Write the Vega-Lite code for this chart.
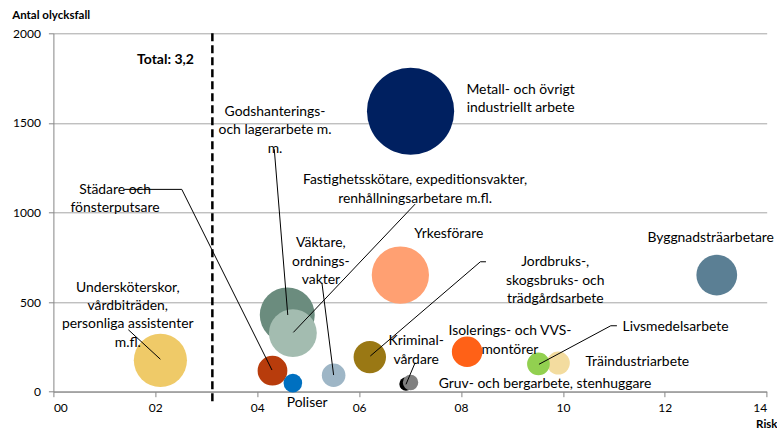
{
  "$schema": "https://vega.github.io/schema/vega-lite/v6.json",
  "autosize": {"type": "none"},
  "width": 713.3,
  "height": 358.4,
  "padding": {"left": 53.4, "top": 33.3, "right": 10.3, "bottom": 40.3},
  "background": "white",
  "config": {
    "view": {"stroke": null},
    "font": "Lato",
    "axis": {"labelFont": "Lato", "titleFont": "Lato", "labelColor": "black", "titleColor": "black"}
  },
  "datasets": {
    "bubblor": [
      {"yrke": "Metall- och övrigt industriellt arbete", "risk": 7.01, "olycksfall": 1565, "storlek": 2421, "z": 1},
      {"yrke": "Yrkesförare", "risk": 6.81, "olycksfall": 651, "storlek": 1043, "z": 2},
      {"yrke": "Byggnadsträarbetare", "risk": 13.02, "olycksfall": 651, "storlek": 529, "z": 3},
      {"yrke": "Undersköterskor, vårdbiträden, personliga assistenter m.fl.", "risk": 2.10, "olycksfall": 175, "storlek": 900, "z": 4},
      {"yrke": "Godshanterings- och lagerarbete m. m.", "risk": 4.59, "olycksfall": 428, "storlek": 961, "z": 5},
      {"yrke": "Fastighetsskötare, expeditionsvakter, renhållningsarbetare m.fl.", "risk": 4.70, "olycksfall": 327, "storlek": 729, "z": 6},
      {"yrke": "Städare och fönsterputsare", "risk": 4.30, "olycksfall": 117, "storlek": 282, "z": 7},
      {"yrke": "Poliser", "risk": 4.70, "olycksfall": 48, "storlek": 110, "z": 8},
      {"yrke": "Väktare, ordningsvakter", "risk": 5.50, "olycksfall": 92, "storlek": 177, "z": 9},
      {"yrke": "Jordbruks-, skogsbruks- och trädgårdsarbete", "risk": 6.21, "olycksfall": 193, "storlek": 335, "z": 10},
      {"yrke": "Kriminalvårdare", "risk": 6.92, "olycksfall": 43, "storlek": 56, "z": 11},
      {"yrke": "Gruv- och bergarbete, stenhuggare", "risk": 7.01, "olycksfall": 51, "storlek": 76, "z": 12},
      {"yrke": "Isolerings- och VVS-montörer", "risk": 8.12, "olycksfall": 223, "storlek": 296, "z": 13},
      {"yrke": "Träindustriarbete", "risk": 9.91, "olycksfall": 160, "storlek": 169, "z": 14},
      {"yrke": "Livsmedelsarbete", "risk": 9.52, "olycksfall": 155, "storlek": 164, "z": 15}
    ],
    "etiketter": [
      {"text": "Undersköterskor,\nvårdbiträden,\npersonliga assistenter\nm.fl.", "risk": 1.46, "olycksfall": 581},
      {"text": "Städare och\nfönsterputsare", "risk": 1.21, "olycksfall": 1126},
      {"text": "Godshanterings-\noch lagerarbete m.\nm.", "risk": 4.35, "olycksfall": 1561},
      {"text": "Fastighetsskötare, expeditionsvakter,\nrenhållningsarbetare m.fl.", "risk": 7.10, "olycksfall": 1179},
      {"text": "Väktare,\nordnings-\nvakter", "risk": 5.25, "olycksfall": 828},
      {"text": "Yrkesförare", "risk": 7.76, "olycksfall": 880},
      {"text": "Metall- och övrigt\nindustriellt arbete", "risk": 9.17, "olycksfall": 1684},
      {"text": "Jordbruks-,\nskogsbruks- och\nträdgårdsarbete", "risk": 9.85, "olycksfall": 722},
      {"text": "Byggnadsträarbetare", "risk": 12.90, "olycksfall": 856},
      {"text": "Kriminal-\nvårdare", "risk": 7.12, "olycksfall": 281},
      {"text": "Isolerings- och VVS-\nmontörer", "risk": 8.96, "olycksfall": 338},
      {"text": "Gruv- och bergarbete, stenhuggare", "risk": 9.65, "olycksfall": 43},
      {"text": "Poliser", "risk": 4.98, "olycksfall": -65},
      {"text": "Livsmedelsarbete", "risk": 12.21, "olycksfall": 363},
      {"text": "Träindustriarbete", "risk": 11.46, "olycksfall": 167}
    ],
    "linjer": [
      {"x": 1.47, "y": 346, "x2": 2.10, "y2": 181},
      {"x": 1.39, "y": 1129, "x2": 2.52, "y2": 1129},
      {"x": 2.52, "y": 1129, "x2": 4.29, "y2": 121},
      {"x": 4.335, "y": 1353, "x2": 4.60, "y2": 428},
      {"x": 7.10, "y": 1047, "x2": 4.71, "y2": 331},
      {"x": 5.27, "y": 608, "x2": 5.50, "y2": 93},
      {"x": 8.49, "y": 725, "x2": 8.38, "y2": 725},
      {"x": 8.38, "y": 725, "x2": 6.22, "y2": 199},
      {"x": 7.10, "y": 162, "x2": 6.92, "y2": 41},
      {"x": 11.06, "y": 368, "x2": 10.94, "y2": 368},
      {"x": 10.94, "y": 368, "x2": 9.53, "y2": 153}
    ],
    "total": [
      {"risk": 3.12, "olycksfall": 2000, "botten": -75, "text": "Total: 3,2", "textRisk": 2.20, "textY": 1851}
    ]
  },
  "layer": [
    {
      "data": {"name": "bubblor"},
      "mark": {"type": "circle", "opacity": 1},
      "encoding": {
        "x": {
          "field": "risk", "type": "quantitative",
          "scale": {"domain": [0, 14], "nice": false},
          "axis": {
            "values": [0, 2, 4, 6, 8, 10, 12, 14], "format": "02d",
            "grid": false, "domainColor": "#868686", "tickColor": "#868686", "tickSize": 5,
            "labelFontSize": 12, "labelPadding": 6,
            "title": "Risk", "titleFontSize": 11.5, "titleFontWeight": "bold",
            "titleX": 723.6, "titleY": 33.3, "titleAlign": "right", "titleBaseline": "middle", "titleAnchor": null
          }
        },
        "y": {
          "field": "olycksfall", "type": "quantitative",
          "scale": {"domain": [0, 2000], "nice": false},
          "axis": {
            "values": [0, 500, 1000, 1500, 2000], "format": "d",
            "grid": true, "gridColor": "#A6A6A6", "domainColor": "#868686", "tickColor": "#868686", "tickSize": 5,
            "labelFontSize": 12, "labelPadding": 8,
            "title": "Antal olycksfall", "titleFontSize": 11.5, "titleFontWeight": "bold",
            "titleAngle": 0, "titleX": -41.7, "titleY": -18.3, "titleAlign": "left", "titleBaseline": "middle", "titleAnchor": null
          }
        },
        "size": {"field": "storlek", "type": "quantitative", "scale": {"type": "linear", "domain": [0, 2500], "range": [0, 7854], "zero": true}, "legend": null},
        "color": {
          "field": "yrke", "type": "nominal", "legend": null,
          "scale": {
            "domain": [
              "Metall- och övrigt industriellt arbete", "Yrkesförare", "Byggnadsträarbetare",
              "Undersköterskor, vårdbiträden, personliga assistenter m.fl.", "Godshanterings- och lagerarbete m. m.",
              "Fastighetsskötare, expeditionsvakter, renhållningsarbetare m.fl.", "Städare och fönsterputsare", "Poliser",
              "Väktare, ordningsvakter", "Jordbruks-, skogsbruks- och trädgårdsarbete", "Kriminalvårdare",
              "Gruv- och bergarbete, stenhuggare", "Isolerings- och VVS-montörer", "Träindustriarbete", "Livsmedelsarbete"
            ],
            "range": [
              "#002060", "#FFA072", "#5B7F94",
              "#EFCA68", "#6B8C7E",
              "#A3BCB0", "#B83C0C", "#0070C0",
              "#9EB6C6", "#9A7814", "#000000",
              "#808080", "#FF6117", "#F3DC9F", "#92D050"
            ]
          }
        },
        "order": {"field": "z", "type": "quantitative"}
      }
    },
    {
      "data": {"name": "total"},
      "mark": {"type": "rule", "color": "black", "strokeWidth": 2.5, "strokeDash": [8, 4]},
      "encoding": {
        "x": {"field": "risk", "type": "quantitative"},
        "y": {"field": "olycksfall", "type": "quantitative"},
        "y2": {"field": "botten"}
      }
    },
    {
      "data": {"name": "total"},
      "mark": {"type": "text", "font": "Lato", "fontSize": 14, "fontWeight": "bold", "color": "black", "align": "center", "baseline": "middle"},
      "encoding": {
        "x": {"field": "textRisk", "type": "quantitative"},
        "y": {"field": "textY", "type": "quantitative"},
        "text": {"field": "text"}
      }
    },
    {
      "data": {"name": "linjer"},
      "mark": {"type": "rule", "color": "black", "strokeWidth": 1},
      "encoding": {
        "x": {"field": "x", "type": "quantitative"},
        "y": {"field": "y", "type": "quantitative"},
        "x2": {"field": "x2"},
        "y2": {"field": "y2"}
      }
    },
    {
      "data": {"name": "etiketter"},
      "mark": {"type": "text", "font": "Lato", "fontSize": 13.9, "color": "black", "align": "center", "baseline": "middle", "lineBreak": "\n", "lineHeight": 18.4},
      "encoding": {
        "x": {"field": "risk", "type": "quantitative"},
        "y": {"field": "olycksfall", "type": "quantitative"},
        "text": {"field": "text"}
      }
    }
  ]
}
